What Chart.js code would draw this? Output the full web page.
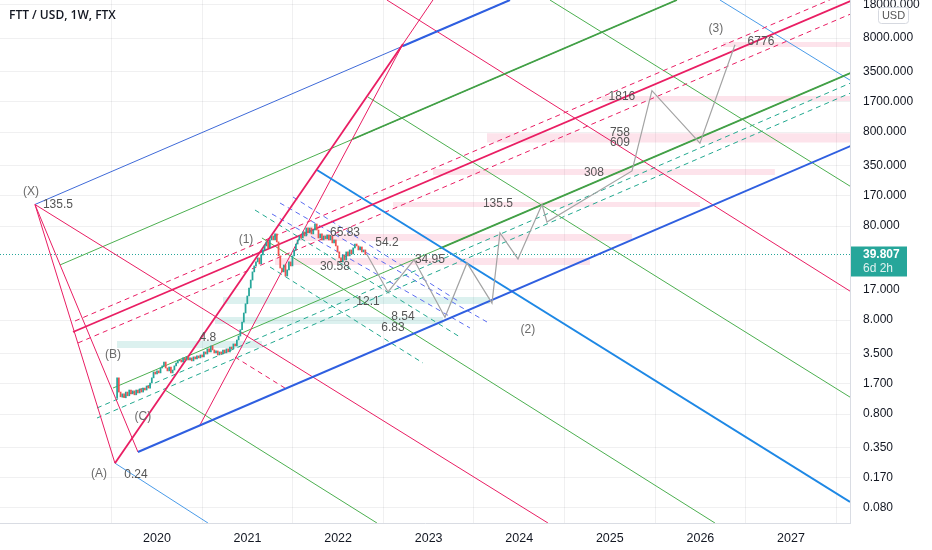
<!DOCTYPE html>
<html lang="en">
<head>
<meta charset="UTF-8">
<title>FTT / USD, 1W, FTX</title>
<script src="https://cdn.jsdelivr.net/npm/chart.js"></script>
<style>
  html, body { margin: 0; padding: 0; background: #fff; }
  #wrap { width: 932px; height: 550px; }
</style>
</head>
<body>
<div id="wrap"><canvas id="fttChart" width="932" height="550"></canvas></div>
<script>
// axis ticks
const yearTicks = [2020, 2021, 2022, 2023, 2024, 2025, 2026, 2027];
const priceTicks = [18000, 8000, 3500, 1700, 800, 350, 170, 80, 17, 8, 3.5, 1.7, 0.8, 0.35, 0.17, 0.08];
const lastPrice = 39.807;

// weekly candles (close prices), first week of trading mid 2019
const candleStart = 2019.56;
const firstOpen = 1.18;
const closes = [
  1.94, 1.37, 1.22, 1.31, 1.19, 1.37, 1.25, 1.44, 1.31, 1.41, 1.28, 1.44, 1.34, 1.48, 1.37, 1.51, 1.44, 1.59, 1.51,
  1.71, 1.94, 2.24, 2.13, 2.30, 2.19, 2.47, 2.60, 2.86, 2.47, 2.30, 2.53, 2.19, 2.35, 2.60, 2.79, 2.94, 3.01, 2.86,
  3.16, 3.01, 3.24, 3.01, 3.16, 2.94, 3.24, 3.08, 3.32, 3.16, 3.40, 3.24, 3.66, 3.48, 3.94, 3.66, 4.24, 3.84, 3.57,
  3.75, 3.40, 3.66, 3.48, 3.84, 3.57, 3.94, 3.66, 4.13, 3.94, 4.45, 4.24, 4.9, 5.4, 6.3, 7.6, 9.5, 11.9, 14.4,
  17.5, 21.3, 26.0, 30.1, 33.2, 36.6, 31.6, 39.4, 44.5, 49.1, 54.2, 46.8, 56.9, 62.7, 56.9, 65.9, 54.2, 38.5, 28.6,
  26.0, 30.8, 23.5, 27.3, 33.2, 30.1, 38.5, 44.5, 51.5, 56.9, 62.7, 59.7, 69.2, 62.7, 76.3, 67.5, 76.3, 65.9, 72.6,
  84.1, 72.6, 59.7, 65.9,
  56.9, 62.7, 58.3, 64.3, 56.9, 62.7, 52.9, 56.9, 49.1, 42.4, 36.6, 33.2, 39.4, 34.8, 42.4, 38.5, 44.5, 40.4, 46.8,
  51.5, 49.1, 44.5, 47.9, 42.4, 44.5, 39.8
];

// projected path (grey zigzag)
const zigYears = [2022.319, 2022.551, 2022.838, 2023.180, 2023.423, 2023.699, 2023.787, 2023.986, 2024.251, 2024.306, 2025.245, 2025.465, 2025.995, 2026.382];
const zigPrices = [39.8, 15.9, 34.95, 8.54, 32.4, 12.1, 67.5, 35.7, 135.5, 88.3, 308, 2200, 609, 6776];

// drawn lines: [year1, price1, year2, price2]
const redThin = [
  [2018.653, 135.5, 2019.536, 0.24],
  [2018.653, 135.5, 2019.790, 0.3155],
  [2018.653, 135.5, 2024.317, 0.0554],
  [2022.716, 6900, 2023.047, 20300],
  [2020.475, 0.611, 2022.716, 6900],
  [2022.539, 20300, 2027.685, 15.5]
];
const redThick = [
  [2019.536, 0.24, 2022.716, 6900],
  [2019.073, 5.97, 2027.685, 20300]
];
const redDashed = [
  [2019.095, 7.81, 2027.685, 25940],
  [2019.128, 4.56, 2027.685, 14760],
  [2020.861, 3.23, 2021.413, 1.51]
];
const blueThin = [
  [2018.653, 135.5, 2023.898, 20300]
];
const blueThick = [
  [2022.716, 6580, 2023.898, 20300],
  [2019.790, 0.3155, 2027.685, 582]
];
const lightBlue = [
  [2019.536, 0.24, 2020.563, 0.0554],
  [2026.216, 20300, 2027.685, 2724]
];
const brightBlue = [
  [2021.767, 315.5, 2027.652, 0.0927]
];
const greenThin = [
  [2018.929, 30.8, 2025.741, 20300],
  [2019.514, 1.51, 2027.685, 3480],
  [2024.339, 20300, 2027.685, 203],
  [2022.330, 1886, 2027.652, 1.21],
  [2021.159, 59.7, 2026.161, 0.0554],
  [2020.088, 1.44, 2022.429, 0.0554]
];
const greenThick = [
  [2022.164, 674, 2025.741, 20300],
  [2023.125, 46.2, 2027.685, 3480]
];
const tealDashed = [
  [2019.338, 0.927, 2027.685, 2724],
  [2019.338, 0.725, 2027.685, 2133],
  [2021.082, 118.4, 2023.345, 5.28],
  [2021.248, 29.3, 2022.937, 2.79]
];
const violetDashed = [
  [2021.358, 140.6, 2023.644, 7.62],
  [2021.502, 162.8, 2023.345, 12.4],
  [2021.270, 107.4, 2023.456, 6.58]
];

// price zones: [year1, year2, low, high]
const pinkZones = [
  [2026.249, 2027.652, 6420, 7255],
  [2024.913, 2027.652, 1710, 1933],
  [2023.644, 2027.652, 620, 775],
  [2023.047, 2026.823, 279, 323],
  [2022.606, 2025.995, 127.5, 144],
  [2021.579, 2025.245, 55.4, 65.8],
  [2021.303, 2024.781, 30.8, 36.5]
];
const greenZones = [
  [2020.729, 2023.677, 11.84, 14.06],
  [2020.640, 2023.158, 7.26, 8.61],
  [2019.558, 2021.159, 4.03, 4.78]
];

// annotations: [text, year, price]
const notes = [
  ['(X)', 2018.609, 184], ['135.5', 2018.907, 135.5],
  ['(A)', 2019.360, 0.184], ['0.24', 2019.768, 0.18],
  ['(B)', 2019.514, 3.40], ['(C)', 2019.845, 0.743],
  ['(1)', 2020.983, 56.9], ['4.8', 2020.563, 5.15],
  ['65.83', 2022.076, 67.4], ['54.2', 2022.539, 52.8], ['30.58', 2021.965, 29.3],
  ['34.95', 2023.014, 34.8], ['12.1', 2022.330, 12.4], ['8.54', 2022.716, 8.61], ['6.83', 2022.606, 6.58],
  ['(2)', 2024.096, 6.26], ['135.5', 2023.765, 137], ['308', 2024.825, 293],
  ['758', 2025.112, 781], ['609', 2025.112, 611], ['1816', 2025.134, 1886],
  ['(3)', 2026.172, 9977], ['6776', 2026.669, 7255]
];

const X_MIN = 2018.267, X_MAX = 2027.652;
const Y_MIN = 0.0554, Y_MAX = 20300;

function segs(list, style, order) {
  return list.map(s => Object.assign({
    type: 'line',
    data: [{ x: s[0], y: s[1] }, { x: s[2], y: s[3] }],
    pointRadius: 0,
    fill: false,
    order: order
  }, style));
}

function zones(list, color) {
  return list.map(z => ({
    type: 'line',
    data: [{ x: z[0], y: z[3] }, { x: z[1], y: z[3] }],
    borderColor: 'transparent',
    borderWidth: 1,
    pointRadius: 0,
    fill: { value: z[2] },
    backgroundColor: color,
    order: 20
  }));
}

const weekLen = 7 / 365.25;
const candles = closes.map((c, i) => ({
  x: candleStart + i * weekLen,
  y: [i === 0 ? firstOpen : closes[i - 1], c]
}));

const datasets = [].concat(
  [{
    type: 'line',
    data: zigYears.map((x, i) => ({ x: x, y: zigPrices[i] })),
    borderColor: '#a3a3a3',
    borderWidth: 1.2,
    pointRadius: 0,
    fill: false,
    order: 0
  }],
  [{
    type: 'bar',
    data: candles,
    barThickness: 1.1,
    minBarLength: 1,
    grouped: false,
    backgroundColor: ctx => {
      const r = ctx.raw;
      return r && r.y[1] >= r.y[0] ? '#26a69a' : '#ef5350';
    },
    order: 1
  }],
  segs(redThick, { borderColor: '#e91e63', borderWidth: 1.8 }, 4),
  segs(redThin, { borderColor: '#e91e63', borderWidth: 1 }, 5),
  segs(redDashed, { borderColor: '#e91e63', borderWidth: 1, borderDash: [5, 4] }, 5),
  segs(blueThick, { borderColor: '#2f5fe0', borderWidth: 2 }, 4),
  segs(blueThin, { borderColor: '#3f6ad8', borderWidth: 1 }, 5),
  segs(lightBlue, { borderColor: '#4a9be8', borderWidth: 1 }, 5),
  segs(brightBlue, { borderColor: '#1e88e5', borderWidth: 2 }, 4),
  segs(greenThick, { borderColor: '#43a047', borderWidth: 1.8 }, 4),
  segs(greenThin, { borderColor: '#4caf50', borderWidth: 1 }, 5),
  segs(tealDashed, { borderColor: '#22a88f', borderWidth: 1, borderDash: [5, 4] }, 5),
  segs(violetDashed, { borderColor: '#5b6cf0', borderWidth: 1, borderDash: [5, 4] }, 5),
  [{
    type: 'line',
    data: [{ x: X_MIN, y: lastPrice }, { x: X_MAX, y: lastPrice }],
    borderColor: '#26a69a',
    borderWidth: 1,
    borderDash: [1, 2],
    pointRadius: 0,
    fill: false,
    order: 6
  }],
  zones(pinkZones, 'rgba(242, 54, 110, 0.14)'),
  zones(greenZones, 'rgba(38, 166, 154, 0.16)')
);

const overlay = {
  id: 'overlay',
  afterDatasetsDraw(chart) {
    const ctx = chart.ctx;
    const xs = chart.scales.x, ys = chart.scales.y;
    ctx.save();
    ctx.font = '12px "Liberation Sans", Arial, sans-serif';
    ctx.textAlign = 'center';
    ctx.textBaseline = 'middle';
    notes.forEach(n => {
      ctx.fillStyle = n[0].charAt(0) === '(' ? '#6b6b6b' : '#555';
      ctx.fillText(n[0], xs.getPixelForValue(n[1]), ys.getPixelForValue(n[2]));
    });
    ctx.restore();
  },
  afterDraw(chart) {
    const ctx = chart.ctx;
    const area = chart.chartArea;
    const py = chart.scales.y.getPixelForValue(lastPrice);
    ctx.save();
    // title
    ctx.font = '600 12px "Open Sans", Arial, sans-serif';
    ctx.fillStyle = '#131722';
    ctx.textAlign = 'left';
    ctx.textBaseline = 'middle';
    ctx.fillText('FTT / USD, 1W, FTX', 9, 16);
    // USD badge
    ctx.fillStyle = '#fff';
    ctx.strokeStyle = '#d6d9e0';
    ctx.lineWidth = 1;
    ctx.beginPath();
    ctx.roundRect(878.5, 7.5, 30, 16, 3);
    ctx.fill();
    ctx.stroke();
    ctx.fillStyle = '#555';
    ctx.font = '11px "Liberation Sans", Arial, sans-serif';
    ctx.textAlign = 'center';
    ctx.fillText('USD', 893.5, 16);
    // last price label
    ctx.fillStyle = '#26a69a';
    ctx.fillRect(area.right + 1, py - 8, 56, 30);
    ctx.fillStyle = '#fff';
    ctx.textAlign = 'left';
    ctx.font = 'bold 12px "Liberation Sans", Arial, sans-serif';
    ctx.fillText(lastPrice.toFixed(3), area.right + 13, py);
    ctx.fillStyle = 'rgba(255,255,255,0.85)';
    ctx.font = '12px "Liberation Sans", Arial, sans-serif';
    ctx.fillText('6d 2h', area.right + 13, py + 14);
    ctx.restore();
  }
};

new Chart(document.getElementById('fttChart'), {
  type: 'line',
  data: { datasets: datasets },
  options: {
    responsive: false,
    animation: false,
    events: [],
    layout: { padding: 0 },
    elements: { line: { tension: 0 }, point: { radius: 0 } },
    plugins: { legend: { display: false }, tooltip: { enabled: false } },
    scales: {
      x: {
        type: 'linear',
        min: X_MIN,
        max: X_MAX,
        bounds: 'data',
        offset: false,
        grid: { color: 'rgba(42,46,57,0.07)', drawTicks: false },
        border: { color: '#d9dce3' },
        ticks: {
          padding: 8,
          color: '#131722',
          font: { size: 12.5, family: '"Liberation Sans", Arial, sans-serif' },
          callback: v => String(v)
        },
        afterBuildTicks: s => { s.ticks = yearTicks.map(v => ({ value: v })); },
        afterFit: s => { s.height = 27; s.paddingLeft = 0; s.paddingRight = 0; }
      },
      y: {
        type: 'logarithmic',
        position: 'right',
        min: Y_MIN,
        max: Y_MAX,
        bounds: 'data',
        grid: { color: 'rgba(42,46,57,0.07)', drawTicks: false },
        border: { color: '#d9dce3' },
        ticks: {
          padding: 13,
          color: '#131722',
          autoSkip: false,
          font: { size: 12, family: '"Liberation Sans", Arial, sans-serif' },
          callback: v => Number(v).toFixed(3)
        },
        afterBuildTicks: s => { s.ticks = priceTicks.map(v => ({ value: v })); },
        afterFit: s => { s.width = 82; s.paddingTop = 0; s.paddingBottom = 0; }
      }
    }
  },
  plugins: [overlay]
});
</script>
</body>
</html>
